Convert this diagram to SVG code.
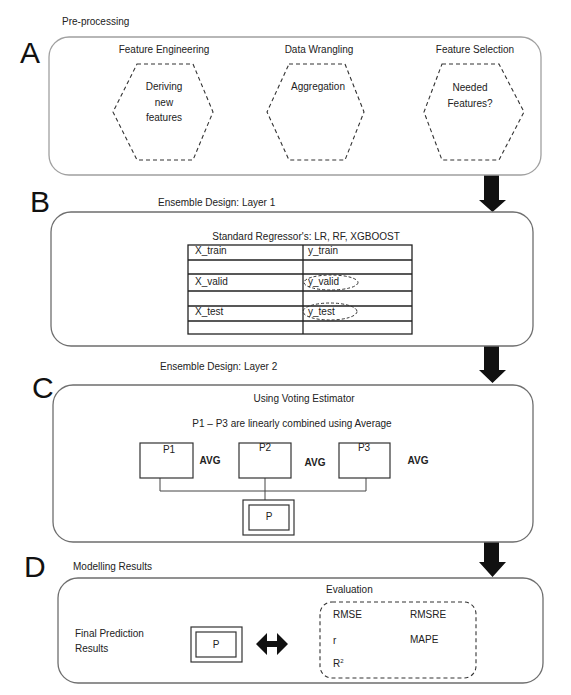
<svg xmlns="http://www.w3.org/2000/svg" width="571" height="695" viewBox="0 0 571 695">
<style>
text{font-family:"Liberation Sans",Arial,sans-serif;font-size:10px;fill:#222}
.big{font-size:30px;fill:#111}
.c{text-anchor:middle}
.b{font-weight:bold}
.panel{fill:#fff;stroke:#6e6e6e;stroke-width:1.3}
.light{stroke:#a0a0a0}
.hex{fill:none;stroke:#333;stroke-width:1.1;stroke-dasharray:4 3}
.tbl{fill:none;stroke:#222;stroke-width:1.3}
.box{fill:#fff;stroke:#333;stroke-width:1.2}
.ell{fill:none;stroke:#333;stroke-width:1;stroke-dasharray:3 2}
.line{fill:none;stroke:#444;stroke-width:1}
.arrow{fill:#111}
</style>
<rect width="571" height="695" fill="#fff"/>

<g id="connectors">
<polygon class="arrow" points="484,175 499,175 499,200 506,200 492.5,212 479,200 484,200"/>
<polygon class="arrow" points="484,346 499,346 499,370 506,370 492.5,383 479,370 484,370"/>
<polygon class="arrow" points="484,542 499,542 499,562 506,562 492.5,577 479,562 484,562"/>
</g>

<g id="panelA">
<text x="62" y="25">Pre-processing</text>
<text class="big" x="20" y="63">A</text>
<rect class="panel light" x="49" y="37" width="492" height="138" rx="20"/>
<g id="hexFE">
<text class="c" x="164" y="53">Feature Engineering</text>
<polygon class="hex" points="137,64 193,64 213,112 193,160 137,160 113,112"/>
<text class="c" x="164" y="90">Deriving</text>
<text class="c" x="164" y="106">new</text>
<text class="c" x="164" y="121">features</text>
</g>
<g id="hexDW">
<text class="c" x="319" y="53">Data Wrangling</text>
<polygon class="hex" points="289,64 345,64 364,112 345,160 289,160 267,112"/>
<text class="c" x="318" y="90">Aggregation</text>
</g>
<g id="hexFS">
<text class="c" x="475" y="53">Feature Selection</text>
<polygon class="hex" points="442,64 499,64 524,112 499,160 442,160 424,112"/>
<text class="c" x="470" y="91">Needed</text>
<text class="c" x="470" y="107">Features?</text>
</g>
</g>

<g id="panelB">
<text x="158" y="206">Ensemble Design: Layer 1</text>
<text class="big" x="30" y="212">B</text>
<rect class="panel" x="51" y="212" width="482" height="134" rx="20"/>
<text class="c" x="306" y="240">Standard Regressor's: LR, RF, XGBOOST</text>
<g id="table">
<rect class="tbl" x="188" y="245" width="224" height="89"/>
<path class="tbl" d="M303 245V334M188 260H412M188 274H412M188 291H412M188 306H412M188 321H412"/>
<text x="195" y="254">X_train</text>
<text x="308" y="254">y_train</text>
<text x="195" y="285">X_valid</text>
<text x="308" y="285">y_valid</text>
<text x="195" y="315">X_test</text>
<text x="308" y="315">y_test</text>
<ellipse class="ell" cx="331" cy="282.5" rx="27" ry="7.5"/>
<ellipse class="ell" cx="330" cy="311.5" rx="27" ry="8.5"/>
</g>
</g>

<g id="panelC">
<text x="160" y="370">Ensemble Design: Layer 2</text>
<text class="big" x="32" y="398">C</text>
<rect class="panel" x="53" y="385" width="480" height="157" rx="20"/>
<text class="c" x="304" y="402">Using Voting Estimator</text>
<text class="c" x="292" y="427">P1 – P3 are linearly combined using Average</text>
<path class="line" d="M160 478V491H366V478M265 478V500"/>
<g id="P1"><rect class="box" x="140" y="443" width="53" height="35"/><text class="c" x="169" y="453">P1</text></g>
<g id="P2"><rect class="box" x="239" y="443" width="52" height="35"/><text class="c" x="265" y="451">P2</text></g>
<g id="P3"><rect class="box" x="339" y="443" width="51" height="35"/><text class="c" x="364" y="451">P3</text></g>
<text class="c b" x="210" y="464">AVG</text>
<text class="c b" x="315" y="466">AVG</text>
<text class="c b" x="418" y="464">AVG</text>
<g id="Pc">
<rect class="box" x="243" y="500" width="51" height="35"/>
<rect class="box" x="249" y="505" width="40" height="25"/>
<text class="c" x="269" y="520">P</text>
</g>
</g>

<g id="panelD">
<text class="big" x="24" y="577">D</text>
<text x="73" y="570">Modelling Results</text>
<rect class="panel" x="58" y="578" width="485" height="105" rx="20"/>
<text x="75" y="637">Final Prediction</text>
<text x="75" y="652">Results</text>
<g id="Pd">
<rect class="box" x="191" y="627" width="51" height="35"/>
<rect class="box" x="196" y="632" width="40" height="25"/>
<text class="c" x="216" y="648">P</text>
</g>
<polygon class="arrow" points="256,644 267,633 267,641 277,641 277,633 288,644 277,655 277,647 267,647 267,655"/>
<g id="evaluation">
<text x="326" y="593">Evaluation</text>
<rect class="hex" x="320" y="602" width="156" height="76" rx="12"/>
<text x="333" y="618">RMSE</text>
<text x="410" y="618">RMSRE</text>
<text x="333" y="644">r</text>
<text x="410" y="643">MAPE</text>
<text x="333" y="667">R<tspan font-size="6" dy="-4">2</tspan></text>
</g>
</g>
</svg>
